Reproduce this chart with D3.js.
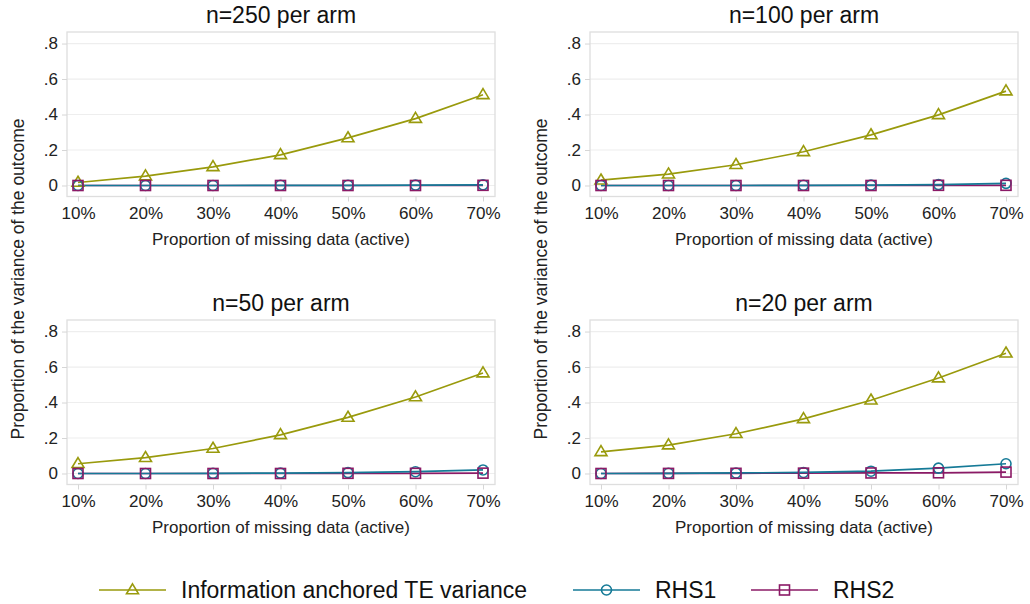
<!DOCTYPE html>
<html>
<head>
<meta charset="utf-8">
<script src="https://cdn.jsdelivr.net/npm/d3@7"></script>
<style>
  html, body { margin: 0; padding: 0; background: #ffffff; }
  svg { display: block; font-family: "Liberation Sans", Arial, sans-serif; }
</style>
</head>
<body>
<svg id="chart" width="1030" height="604"></svg>
<script>
// ---- data ----
const categories = [10, 20, 30, 40, 50, 60, 70];
const xTickLabels = ["10%", "20%", "30%", "40%", "50%", "60%", "70%"];
const yTicks = [0, 0.2, 0.4, 0.6, 0.8];
const yTickLabels = ["0", ".2", ".4", ".6", ".8"];
const panelTitles = ["n=250 per arm", "n=100 per arm", "n=50 per arm", "n=20 per arm"];
const seriesNames = ["Information anchored TE variance", "RHS1", "RHS2"];

const infoAnchored250 = [0.017, 0.053, 0.105, 0.173, 0.268, 0.377, 0.511];
const rhs1_250 = [0, 0, 0, 0.001, 0.001, 0.002, 0.004];
const rhs2_250 = [0, 0, 0, 0, 0, 0, 0.001];

const infoAnchored100 = [0.030, 0.064, 0.117, 0.190, 0.285, 0.398, 0.532];
const rhs1_100 = [0, 0, 0, 0.001, 0.002, 0.005, 0.012];
const rhs2_100 = [0, 0, 0, 0, 0, 0.001, 0.001];

const infoAnchored50 = [0.055, 0.089, 0.141, 0.218, 0.316, 0.431, 0.566];
const rhs1_50 = [0, 0, 0.001, 0.002, 0.005, 0.010, 0.020];
const rhs2_50 = [0, 0, 0, 0, 0.001, 0.001, 0.002];

const infoAnchored20 = [0.122, 0.160, 0.224, 0.308, 0.413, 0.538, 0.678];
const rhs1_20 = [0, 0.001, 0.003, 0.006, 0.013, 0.030, 0.055];
const rhs2_20 = [0, 0.0005, 0.001, 0.002, 0.003, 0.004, 0.008];

const panelSeries = [
  [infoAnchored250, rhs1_250, rhs2_250],
  [infoAnchored100, rhs1_100, rhs2_100],
  [infoAnchored50, rhs1_50, rhs2_50],
  [infoAnchored20, rhs1_20, rhs2_20]
];

// ---- styles ----
const colors = ["#999a0c", "#157a97", "#8b1a66"];
const symbols = ["triangle", "circle", "square"];

const svg = d3.select("#chart");

const panelW = 428, panelH = 164.5;
const panelPos = [
  {x: 67, y: 32}, {x: 590, y: 32},
  {x: 67, y: 320}, {x: 590, y: 320}
];

function drawMarker(g, type, cx, cy, color) {
  if (type === "triangle") {
    const w = 12, h = 10;
    g.append("path")
      .attr("d", `M${cx},${cy - h * 0.62} L${cx + w / 2},${cy + h * 0.38} L${cx - w / 2},${cy + h * 0.38} Z`)
      .attr("fill", "none").attr("stroke", color).attr("stroke-width", 1.6);
  } else if (type === "circle") {
    g.append("circle").attr("cx", cx).attr("cy", cy).attr("r", 5)
      .attr("fill", "none").attr("stroke", color).attr("stroke-width", 1.6);
  } else {
    g.append("rect").attr("x", cx - 5).attr("y", cy - 5).attr("width", 10).attr("height", 10)
      .attr("fill", "none").attr("stroke", color).attr("stroke-width", 1.6);
  }
}

panelPos.forEach((p, i) => {
  const g = svg.append("g");
  const x = d3.scaleLinear().domain([10, 70]).range([p.x + 11, p.x + 416]);
  const y = d3.scaleLinear().domain([-0.062, 0.865]).range([p.y + panelH, p.y]);

  // gridlines
  g.selectAll(".grid").data(yTicks).enter().append("line")
    .attr("x1", p.x).attr("x2", p.x + panelW)
    .attr("y1", d => y(d)).attr("y2", d => y(d))
    .attr("stroke", "#eeeeee").attr("stroke-width", 1.2);

  // frame
  g.append("rect").attr("x", p.x).attr("y", p.y).attr("width", panelW).attr("height", panelH)
    .attr("fill", "none").attr("stroke", "#dedede").attr("stroke-width", 1.3);

  // y axis
  const yAxis = d3.axisLeft(y).tickValues(yTicks).tickSize(5).tickPadding(4)
    .tickFormat((d, k) => yTickLabels[k]);
  const ya = g.append("g").attr("transform", `translate(${p.x},0)`).call(yAxis);
  ya.select(".domain").remove();
  ya.selectAll(".tick line").attr("stroke", "#d6d6d6");
  ya.selectAll(".tick text").attr("font-size", "17px").attr("fill", "#222")
    .attr("font-family", "Liberation Sans, Arial, sans-serif");

  // x axis
  const xAxis = d3.axisBottom(x).tickValues(categories).tickSize(5).tickPadding(5)
    .tickFormat((d, k) => xTickLabels[k]);
  const xa = g.append("g").attr("transform", `translate(0,${p.y + panelH})`).call(xAxis);
  xa.select(".domain").remove();
  xa.selectAll(".tick line").attr("stroke", "#d6d6d6");
  xa.selectAll(".tick text").attr("font-size", "17px").attr("fill", "#222")
    .attr("font-family", "Liberation Sans, Arial, sans-serif");

  // x title
  g.append("text").attr("x", p.x + panelW / 2).attr("y", p.y + panelH + 48.5)
    .attr("text-anchor", "middle").attr("font-size", "17px").attr("fill", "#222")
    .text("Proportion of missing data (active)");

  // panel title
  g.append("text").attr("x", p.x + panelW / 2).attr("y", p.y - 9.5)
    .attr("text-anchor", "middle").attr("font-size", "23px").attr("fill", "#111")
    .text(panelTitles[i]);

  // series
  const lineGen = d3.line().x((d, k) => x(categories[k])).y(d => y(d));
  [0, 2, 1].forEach(s => {
    g.append("path").datum(panelSeries[i][s]).attr("d", lineGen)
      .attr("fill", "none").attr("stroke", colors[s]).attr("stroke-width", 1.7);
  });
  [0, 1, 2].forEach(s => {
    panelSeries[i][s].forEach((v, k) => drawMarker(g, symbols[s], x(categories[k]), y(v), colors[s]));
  });
});

// y titles
[18, 541].forEach(cx => {
  svg.append("text").attr("transform", `translate(${cx + 6},279) rotate(-90)`)
    .attr("text-anchor", "middle").attr("font-size", "17.5px").attr("fill", "#222")
    .text("Proportion of the variance of the outcome");
});

// legend
const legendItems = [
  {x1: 99, x2: 166, tx: 181},
  {x1: 573, x2: 640, tx: 655},
  {x1: 751, x2: 818, tx: 833}
];
const ly = 590;
legendItems.forEach((it, s) => {
  svg.append("line").attr("x1", it.x1).attr("x2", it.x2).attr("y1", ly).attr("y2", ly)
    .attr("stroke", colors[s]).attr("stroke-width", 1.7);
  drawMarker(svg, symbols[s], (it.x1 + it.x2) / 2, ly, colors[s]);
  svg.append("text").attr("x", it.tx).attr("y", ly + 8).attr("font-size", "23px").attr("fill", "#111")
    .text(seriesNames[s]);
});
</script>
</body>
</html>
